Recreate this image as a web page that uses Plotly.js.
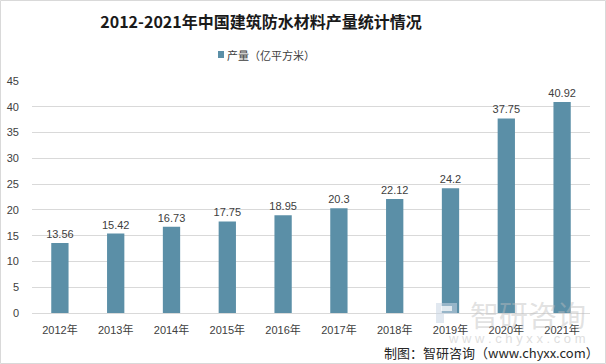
<!DOCTYPE html>
<html>
<head>
<meta charset="utf-8">
<script src="https://cdn.plot.ly/plotly-3.0.1.min.js"></script>
<style>html,body{margin:0;padding:0;background:#fff;}#chart{width:606px;height:364px;}</style>
</head>
<body>
<div id="chart"></div>
<script>
const years = ["2012年","2013年","2014年","2015年","2016年","2017年","2018年","2019年","2020年","2021年"];
const output = [13.56, 15.42, 16.73, 17.75, 18.95, 20.3, 22.12, 24.2, 37.75, 40.92];
const outputLabels = ["13.56","15.42","16.73","17.75","18.95","20.3","22.12","24.2","37.75","40.92"];
const seriesName = "产量（亿平方米）";
const yTicks = [0,5,10,15,20,25,30,35,40,45];

const L = 32, R = 590, T = 81, B = 313;
const px = v => (v - L) / (R - L);
const py = v => (B - v) / (B - T);
const FONT = "Liberation Sans, Noto Sans CJK SC, sans-serif";
const BAR = "#5b8fa7";

const trace = {
  type: "bar",
  x: years,
  y: output,
  name: seriesName,
  text: outputLabels,
  textposition: "outside",
  constraintext: "none",
  textfont: {size: 11, color: "#404040", family: FONT},
  cliponaxis: false,
  marker: {color: BAR},
  showlegend: false,
  hoverinfo: "x+y"
};

const layout = {
  width: 606, height: 364,
  margin: {l: L, r: 606 - R, t: T, b: 364 - B, pad: 0},
  paper_bgcolor: "#ffffff",
  plot_bgcolor: "#ffffff",
  bargap: 0.69,
  showlegend: false,
  title: {
    text: "2012-2021年中国建筑防水材料产量统计情况",
    font: {size: 16, color: "#1a1a1a", family: "Noto Sans CJK SC, sans-serif", weight: "bold"},
    x: 261 / 606, xref: "container", xanchor: "center",
    y: 1 - 22 / 364, yref: "container", yanchor: "middle"
  },
  xaxis: {
    type: "category",
    showgrid: false,
    showline: true, linecolor: "#d9d9d9", linewidth: 1,
    ticks: "", ticklabelstandoff: 7,
    tickfont: {size: 11, color: "#404040", family: FONT},
    fixedrange: true
  },
  yaxis: {
    range: [0, 45],
    tickvals: yTicks,
    showgrid: true, gridcolor: "#d9d9d9", gridwidth: 1,
    zeroline: false, showline: false, ticks: "",
    ticklabelstandoff: 12,
    tickfont: {size: 11, color: "#404040", family: FONT},
    fixedrange: true
  },
  shapes: [
    {type: "rect", xref: "paper", yref: "paper", layer: "below",
     x0: px(0.5), x1: px(605.5), y0: py(363.5), y1: py(0.5),
     line: {color: "#d9d9d9", width: 1}, fillcolor: "rgba(0,0,0,0)"},
    // legend marker
    {type: "rect", xref: "paper", yref: "paper", layer: "above",
     x0: px(218), x1: px(224), y0: py(58), y1: py(51),
     fillcolor: BAR, line: {width: 0}},
    // watermark logo
    {type: "path", xref: "paper", yref: "paper", layer: "above",
     path: "M " + px(436) + "," + py(303) + " L " + px(457) + "," + py(303) + " L " + px(457) + "," + py(314) + " L " + px(444) + "," + py(314) + " L " + px(444) + "," + py(323) + " L " + px(436) + "," + py(323) + " Z",
     fillcolor: "rgba(200,214,228,0.55)", line: {width: 0}},
    {type: "rect", xref: "paper", yref: "paper", layer: "above",
     x0: px(441), x1: px(452), y0: py(311), y1: py(306),
     fillcolor: "rgba(255,255,255,0.7)", line: {width: 0}}
  ],
  annotations: [
    {text: seriesName, xref: "paper", yref: "paper", x: px(225), y: py(55),
     xanchor: "left", yanchor: "middle", showarrow: false,
     font: {size: 11, color: "#404040", family: "Noto Sans CJK SC, sans-serif"}},
    {text: "智研咨询", xref: "paper", yref: "paper", x: px(528), y: py(314),
     xanchor: "center", yanchor: "middle", showarrow: false,
     font: {size: 29, color: "rgba(190,190,190,0.45)", family: "Noto Sans CJK SC, sans-serif"}},
    {text: "w w w . c h y x x . c o m", xref: "paper", yref: "paper", x: px(517), y: py(338),
     xanchor: "center", yanchor: "middle", showarrow: false,
     font: {size: 13, color: "rgba(190,190,190,0.5)", family: FONT}},
    {text: "制图：智研咨询（www.chyxx.com）", xref: "paper", yref: "paper", x: px(601), y: py(352),
     xanchor: "right", yanchor: "middle", showarrow: false,
     font: {size: 13, color: "#262626", family: "Noto Sans CJK SC, sans-serif"}}
  ]
};

Plotly.newPlot("chart", [trace], layout, {displayModeBar: false, staticPlot: true});
</script>
</body>
</html>
